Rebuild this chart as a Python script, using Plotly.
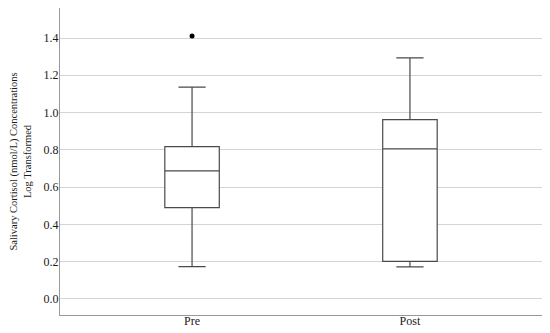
import plotly.graph_objects as go

groups = ["Pre", "Post"]
q1 = [0.49, 0.202]
median = [0.687, 0.805]
q3 = [0.817, 0.962]
lower_whisker = [0.173, 0.172]
upper_whisker = [1.137, 1.293]

outlier_group = ["Pre"]
outlier_value = [1.411]

serif = "Liberation Serif, Times New Roman, serif"

fig = go.Figure()

fig.add_trace(go.Box(
    x=groups,
    q1=q1,
    median=median,
    q3=q3,
    lowerfence=lower_whisker,
    upperfence=upper_whisker,
    width=0.25,
    whiskerwidth=0.5,
    fillcolor="white",
    line=dict(color="#4a4a4a", width=1.2),
    boxpoints=False,
    showlegend=False,
    hoverinfo="skip",
))

fig.add_trace(go.Scatter(
    x=outlier_group,
    y=outlier_value,
    mode="markers",
    marker=dict(color="black", size=5),
    showlegend=False,
))

# page body has an 8px margin, so the figure is sized and offset for it
fig.update_layout(
    width=542,
    height=325,
    margin=dict(l=52, r=8, t=0, b=18),
    plot_bgcolor="white",
    paper_bgcolor="white",
    font=dict(family=serif, size=12, color="#1a1a1a"),
)

fig.update_xaxes(
    type="category",
    range=[-0.606, 1.606],
    automargin=False,
    showline=True,
    linecolor="#999",
    linewidth=1,
    showgrid=False,
    ticks="",
    ticklabelstandoff=-5,
    tickfont=dict(size=12),
)

fig.update_yaxes(
    range=[-0.086, 1.561],
    automargin=False,
    dtick=0.2,
    tick0=0,
    tickformat=".1f",
    showline=True,
    linecolor="#999",
    linewidth=1,
    showgrid=True,
    gridcolor="#d4d4d4",
    gridwidth=1,
    zeroline=False,
    ticks="",
    ticklabelstandoff=-2,
    tickfont=dict(size=12),
    title=dict(
        text="Salivary Cortisol (nmol/L) Concentrations<br>Log Transformed",
        font=dict(size=10.5),
        standoff=11,
    ),
)

fig.write_html("out.html")
